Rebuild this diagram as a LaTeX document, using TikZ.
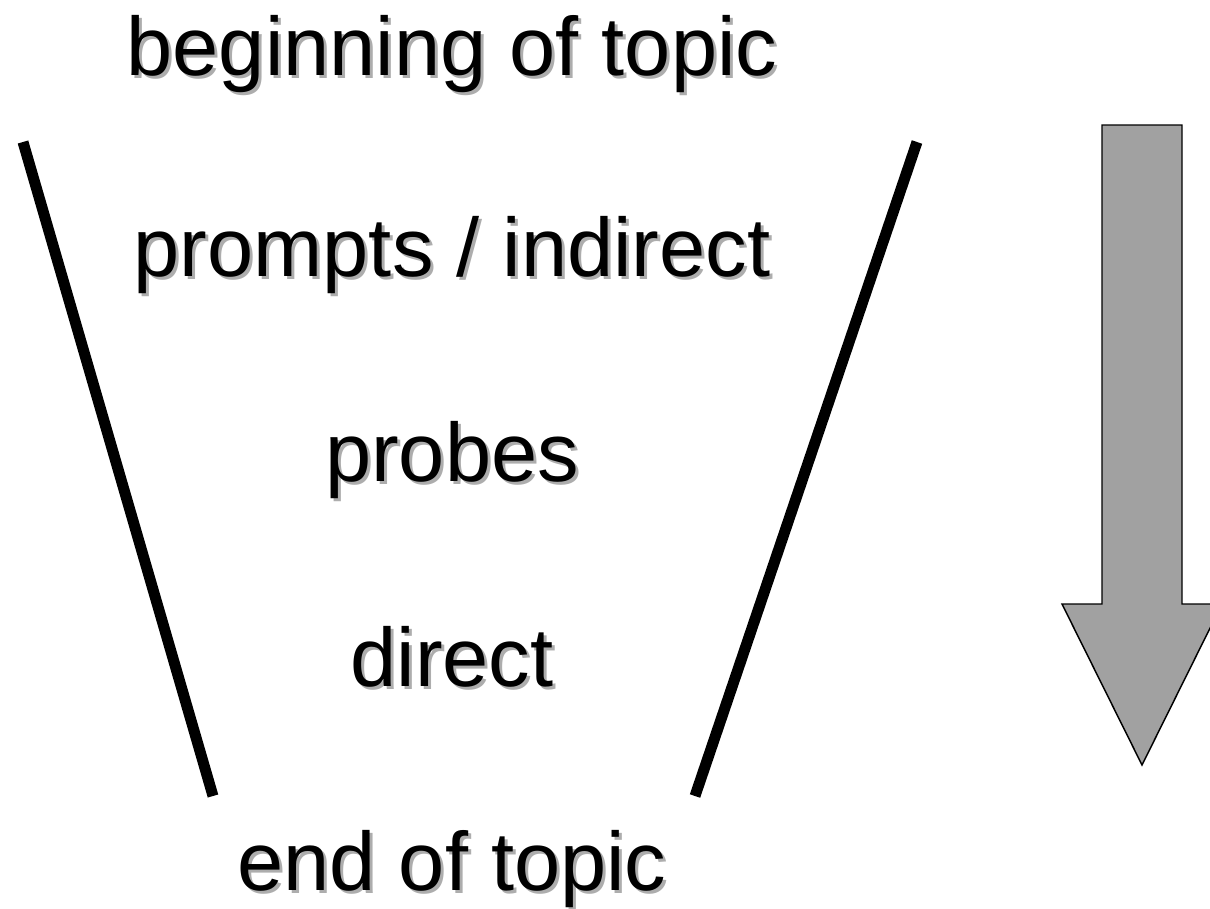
\documentclass[tikz,border=0pt]{standalone}
\usepackage{fontspec}
\setmainfont{Liberation Sans}
\begin{document}
\begin{tikzpicture}[x=0.75pt,y=-0.75pt,
  label text/.style={font=\fontsize{62.25}{70}\selectfont, inner sep=0pt, anchor=base},
  shadow text/.style={label text, text=black!32},
  funnel side/.style={line width=8.2pt, line cap=butt},
  down arrow/.style={fill=black!37, draw=black, line width=1.1pt, line join=miter}]
\useasboundingbox (0,0) rectangle (1210,908);

% text labels with a soft drop shadow
\newcommand{\shadowlabel}[3]{%
  \node[shadow text] (#1-s) at (455,#3+3) {#2};
  \node[label text] (#1) at (452,#3) {#2};}
\shadowlabel{top}{beginning of topic}{75}
\shadowlabel{prompts}{prompts / indirect}{276}
\shadowlabel{probes}{probes}{481}
\shadowlabel{direct}{direct}{686}
\shadowlabel{bottom}{end of topic}{890}

% funnel sides
\coordinate (l1) at (23,142);
\coordinate (l2) at (213,796);
\coordinate (r1) at (917,142);
\coordinate (r2) at (695,796);
\draw[funnel side] (l1) -- (l2);
\draw[funnel side] (r1) -- (r2);

% downward block arrow
\draw[down arrow] (1102,125) -- (1182,125) -- (1182,604) -- (1222,604)
  -- (1142,765) -- (1062,604) -- (1102,604) -- cycle;
\end{tikzpicture}
\end{document}
